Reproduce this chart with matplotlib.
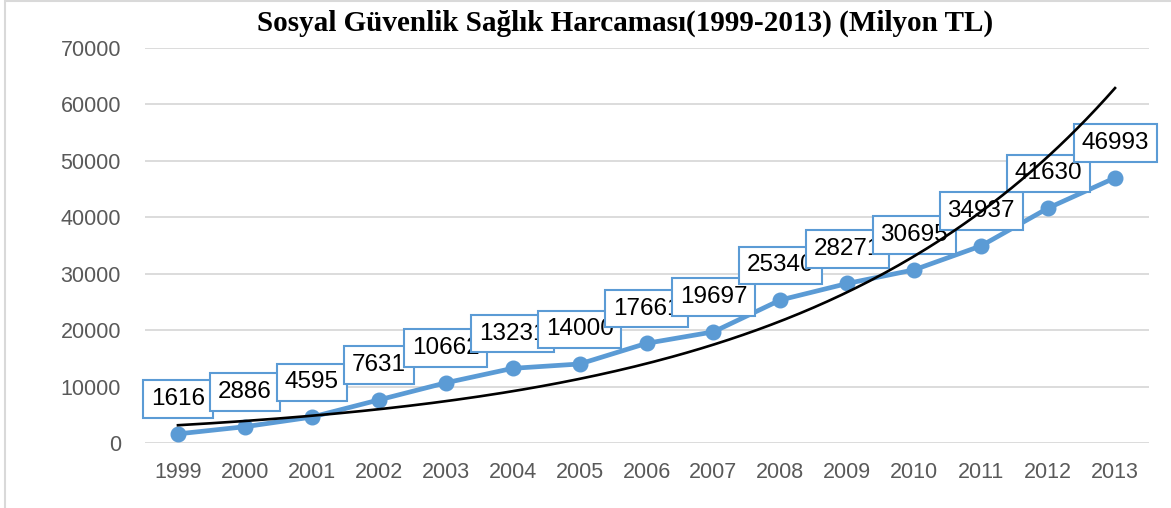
import numpy as np
import matplotlib
matplotlib.use("Agg")
import matplotlib.pyplot as plt
from matplotlib.patches import Rectangle

# data
years = ["1999", "2000", "2001", "2002", "2003", "2004", "2005", "2006",
         "2007", "2008", "2009", "2010", "2011", "2012", "2013"]
spending = [1616, 2886, 4595, 7631, 10662, 13231, 14000, 17661,
            19697, 25340, 28271, 30695, 34937, 41630, 46993]
yticks = [0, 10000, 20000, 30000, 40000, 50000, 60000, 70000]
title = "Sosyal Güvenlik Sağlık Harcaması(1999-2013) (Milyon TL)"

blue = "#5B9BD5"
grid_gray = "#D9D9D9"
tick_gray = "#595959"

fig = plt.figure(figsize=(11.71, 5.08), dpi=100)
ax = fig.add_axes([144.5 / 1171, 1 - 443 / 508, 1004 / 1171, 395 / 508])

x = np.arange(len(years))
y = np.array(spending, dtype=float)

# main series
ax.plot(x, y, color=blue, lw=3.4, marker="o", ms=10.5, zorder=3,
        solid_capstyle="round")

# data labels (later boxes drawn over earlier ones)
for i, v in enumerate(spending):
    ax.annotate(str(v), (x[i], y[i]), xytext=(0, 25), textcoords="offset points",
                ha="center", va="center", fontsize=17.5, family="Liberation Sans",
                color="black", zorder=4 + i * 0.01,
                bbox=dict(boxstyle="square,pad=0.32", fc="white", ec=blue, lw=1.5))

# exponential trendline (log-linear least squares, like Excel)
b, a = np.polyfit(x, np.log(y), 1)
xt = np.linspace(x[0], x[-1], 200)
ax.plot(xt, np.exp(a + b * xt), color="black", lw=1.9, zorder=6)

ax.set_xlim(-0.5, len(years) - 0.5)
ax.set_ylim(0, 70000)
ax.set_yticks(yticks)
ax.set_yticklabels([str(t) for t in yticks])
ax.set_xticks(x)
ax.set_xticklabels(years)
ax.tick_params(length=0, labelsize=15.5, colors=tick_gray)
ax.tick_params(axis="y", pad=17)
ax.tick_params(axis="x", pad=14)
for lab in ax.get_xticklabels() + ax.get_yticklabels():
    lab.set_family("Liberation Sans")
ax.grid(axis="y", color=grid_gray, lw=1.3)
ax.set_axisbelow(True)
for s in ax.spines.values():
    s.set_visible(False)

fig.text(625 / 1171, 1 - 23 / 508, title, ha="center", va="center",
         fontsize=21, fontweight="bold", family="Liberation Serif")

# light chart-area border (cropped on right/bottom)
fig.patches.append(Rectangle((5.5 / 1171, -0.1), 1.2, 1.1 - 1.5 / 508,
                             transform=fig.transFigure, fill=False,
                             ec=grid_gray, lw=1.5))

fig.savefig("out.png", dpi=100)
